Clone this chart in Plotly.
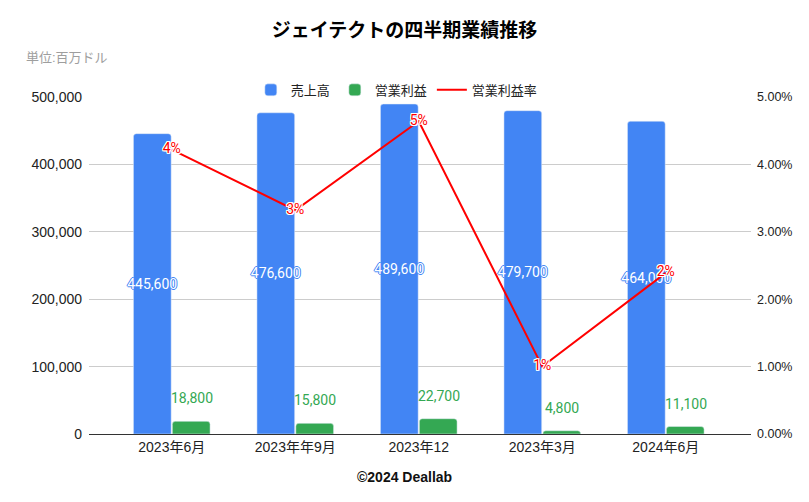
import plotly.graph_objects as go

categories = ["2023年6月", "2023年年9月", "2023年12", "2023年3月", "2024年6月"]
revenue = [445600, 476600, 489600, 479700, 464000]
op_income = [18800, 15800, 22700, 4800, 11100]
op_margin = [0.0422, 0.0332, 0.0464, 0.0100, 0.0239]
margin_labels = ["4%", "3%", "5%", "1%", "2%"]

BLUE = "#4285F4"
GREEN = "#34A853"
RED = "#FF0000"
BASE_FONT = "Liberation Sans, Arial, Noto Sans CJK JP, sans-serif"
LABEL_FONT = "Roboto, Liberation Sans, sans-serif"

fig = go.Figure()

fig.add_trace(go.Bar(
    x=categories, y=revenue, name="売上高", marker_color=BLUE,
    text=[f"{v:,}" for v in revenue], textposition="inside",
    insidetextanchor="middle", constraintext="none", textangle=0,
    textfont=dict(family=LABEL_FONT, size=14, color="white",
                  shadow=f"1px 0 0 {BLUE}, -1px 0 0 {BLUE}, 0 1px 0 {BLUE}, 0 -1px 0 {BLUE}"),
    cliponaxis=False,
))
fig.add_trace(go.Bar(
    x=categories, y=op_income, name="営業利益", marker_color=GREEN,
))
fig.add_trace(go.Scatter(
    x=categories, y=op_margin, name="営業利益率", yaxis="y2",
    mode="lines+text", line=dict(color=RED, width=2),
    text=margin_labels, textposition="middle center",
    textfont=dict(family=LABEL_FONT, size=14, color=RED,
                  shadow="1px 0 0 white, -1px 0 0 white, 0 1px 0 white, 0 -1px 0 white, 1px 1px 0 white, -1px -1px 0 white, 1px -1px 0 white, -1px 1px 0 white"),
    cliponaxis=False,
))

annotations = []
for c, v in zip(categories, op_income):
    annotations.append(dict(
        x=c, y=v, xref="x", yref="y", text=f"{v:,}", showarrow=False,
        xshift=20, yshift=23, font=dict(family=LABEL_FONT, size=14, color=GREEN),
    ))

annotations.append(dict(
    x=-0.098, y=1.116, xref="paper", yref="paper", xanchor="left", yanchor="middle",
    text="単位:百万ドル", showarrow=False,
    font=dict(family=BASE_FONT, size=13, color="#9e9e9e"),
))
annotations.append(dict(
    x=0.4766, y=-0.128, xref="paper", yref="paper", xanchor="center", yanchor="middle",
    text="<b>©2024 Deallab</b>", showarrow=False,
    font=dict(family=BASE_FONT, size=14, color="#111111"),
))

fig.update_layout(
    width=809, height=502,
    margin=dict(l=89, r=58, t=97, b=68, autoexpand=False),
    paper_bgcolor="white", plot_bgcolor="white",
    font=dict(family=BASE_FONT, size=14, color="#222222"),
    title=dict(text="<b>ジェイテクトの四半期業績推移</b>", x=0.5, xref="container",
               y=1 - 30 / 502, yref="container", xanchor="center", yanchor="middle",
               font=dict(family="Noto Sans CJK JP, sans-serif", size=19, color="#000000")),
    barmode="group", bargap=0.37, bargroupgap=0.03, barcornerradius=3,
    showlegend=True,
    legend=dict(orientation="h", x=0.465, xanchor="center", y=1.021, yanchor="middle",
                font=dict(size=13, color="#222222"), bgcolor="rgba(0,0,0,0)",
                itemwidth=30, tracegroupgap=0),
    xaxis=dict(type="category", range=[-0.67, 4.69], showgrid=False,
               showline=True, linecolor="#333333", linewidth=1,
               ticks="", tickfont=dict(size=14, color="#222222")),
    yaxis=dict(range=[0, 500000], dtick=100000, tickformat=",", showgrid=True,
               gridcolor="#cccccc", gridwidth=1, zeroline=False,
               ticks="", tickfont=dict(size=14, color="#222222"), ticklabelstandoff=6),
    yaxis2=dict(range=[0, 0.05], dtick=0.01, tickformat=".2%", overlaying="y",
                side="right", showgrid=False, zeroline=False,
                ticks="", tickfont=dict(size=12.5, color="#222222"), ticklabelstandoff=5),
    annotations=annotations,
)

fig.write_html("out.html",
               config={"displayModeBar": False},
               post_script="document.body.style.margin='0';document.body.style.padding='0';document.body.style.overflow='hidden';")
